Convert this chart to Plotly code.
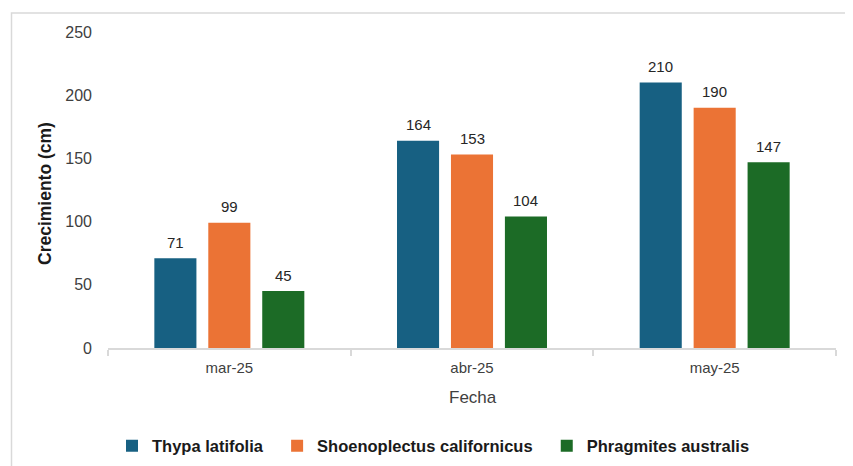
import plotly.graph_objects as go

categories = ["mar-25", "abr-25", "may-25"]
series_names = ["Thypa latifolia", "Shoenoplectus californicus", "Phragmites australis"]
thypa = [71, 164, 210]
shoeno = [99, 153, 190]
phrag = [45, 104, 147]
colors = ["#176082", "#EB7335", "#1C6B26"]
y_ticks = [0, 50, 100, 150, 200, 250]

W, H = 853, 466
OFF = 8  # page body margin
ML, MR, MT, MB = 108 - OFF, W - 836 + OFF, 32 - OFF, H - 348 + OFF
BARGAP, GROUPGAP = 0.333, 0.22
FONT = "Liberation Sans"

fig = go.Figure()
all_vals = [thypa, shoeno, phrag]
for name, vals, c in zip(series_names, all_vals, colors):
    fig.add_trace(go.Bar(x=categories, y=vals, name=name + "\u00a0\u00a0",
                         marker=dict(color=c, line=dict(width=0))))

plot_w = W - ML - MR
ph = H - MT - MB
cat_w = plot_w / len(categories)
slot = cat_w * (1 - BARGAP) / len(series_names)


def px_x(p):
    return (p - OFF - ML) / plot_w


def px_y(p):
    return (H - MB - (p - OFF)) / ph


annotations = []
for i, vals in enumerate(all_vals):
    for cat, v in zip(categories, vals):
        annotations.append(dict(x=cat, y=v, text=str(v), showarrow=False, xref="x", yref="y",
                                xshift=(i - 1) * slot, yshift=16,
                                font=dict(family=FONT, size=15, color="#262626")))

annotations.append(dict(text="Fecha", xref="paper", yref="paper", x=px_x(473), y=px_y(397),
                        showarrow=False, xanchor="center", yanchor="middle",
                        font=dict(family=FONT, size=17, color="#404040")))
annotations.append(dict(text="<b>Crecimiento (cm)</b>", xref="paper", yref="paper", x=px_x(45), y=px_y(194),
                        showarrow=False, xanchor="center", yanchor="middle", textangle=-90,
                        font=dict(family=FONT, size=17.5, color="#1a1a1a")))

fig.update_layout(
    width=W, height=H,
    margin=dict(l=ML, r=MR, t=MT, b=MB, autoexpand=False),
    paper_bgcolor="white", plot_bgcolor="white",
    barmode="group", bargap=BARGAP, bargroupgap=GROUPGAP,
    font=dict(family=FONT, color="#404040"),
    showlegend=True,
    legend=dict(orientation="h", x=px_x(112), xanchor="left", y=px_y(446), yanchor="middle",
                font=dict(family=FONT, size=16.5, color="#1a1a1a", weight="bold"),
                itemwidth=30, traceorder="normal"),
    xaxis=dict(showgrid=False, showline=True, linecolor="#d9d9d9", linewidth=1.5, automargin=False,
               ticks="outside", tickson="boundaries", ticklen=6, tickcolor="#d9d9d9", tickwidth=1.5,
               ticklabelstandoff=5,
               tickfont=dict(family=FONT, size=15, color="#404040")),
    yaxis=dict(range=[0, 250], tickvals=y_ticks, showgrid=False, zeroline=False, showline=False,
               automargin=False, ticklabelstandoff=15,
               tickfont=dict(family=FONT, size=16, color="#404040")),
    annotations=annotations,
    shapes=[dict(type="rect", xref="paper", yref="paper",
                 x0=px_x(11.5), x1=px_x(880), y0=px_y(490), y1=px_y(13),
                 line=dict(color="#d9d9d9", width=1.5), fillcolor="rgba(0,0,0,0)", layer="below")],
)

fig.write_html("out.html")
